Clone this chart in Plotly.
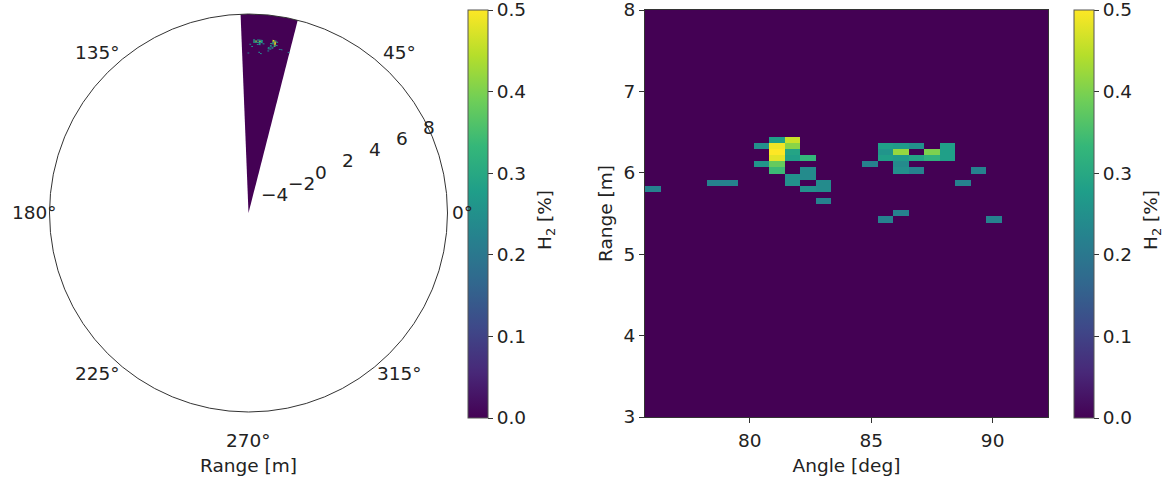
import numpy as np
import plotly.graph_objects as go

# ---- grid definition (angle bins in deg, range bins in m) ----
angle_start = 75.68
angle_step = 0.6385
n_angle = 26
range_start = -5.531
range_step = 0.0753
n_range = 181

# ---- non-zero H2 cells (angle centre [deg], range centre [m], H2 [%]) ----
hot_angle = [76.00, 78.55, 79.19,
             80.47, 80.47,
             81.11, 81.11, 81.11, 81.11, 81.11, 81.11,
             81.75, 81.75, 81.75, 81.75, 81.75, 81.75,
             82.39, 82.39, 82.39, 82.39,
             83.02, 83.02, 83.02,
             84.94,
             85.58, 85.58, 85.58,
             86.22, 86.22, 86.22, 86.22, 86.22,
             86.86, 86.86, 86.86,
             87.50, 87.50,
             88.13, 88.13, 88.13,
             88.77, 89.41, 85.58, 86.22, 90.05]
hot_range = [5.80, 5.88, 5.88,
             6.33, 6.10,
             6.40, 6.33, 6.25, 6.18, 6.10, 6.03,
             6.40, 6.33, 6.25, 6.18, 5.95, 5.88,
             6.18, 6.03, 5.95, 5.80,
             5.88, 5.80, 5.65,
             6.10,
             6.33, 6.25, 6.18,
             6.33, 6.25, 6.18, 6.10, 6.03,
             6.33, 6.18, 6.03,
             6.25, 6.18,
             6.33, 6.25, 6.18,
             5.88, 6.03, 5.43, 5.50, 5.43]
hot_h2 = [0.22, 0.22, 0.22,
          0.25, 0.26,
          0.28, 0.49, 0.50, 0.48, 0.38, 0.34,
          0.46, 0.41, 0.29, 0.28, 0.25, 0.25,
          0.33, 0.24, 0.24, 0.25,
          0.24, 0.24, 0.22,
          0.22,
          0.28, 0.26, 0.28,
          0.27, 0.42, 0.27, 0.24, 0.25,
          0.25, 0.29, 0.22,
          0.40, 0.32,
          0.28, 0.28, 0.28,
          0.22, 0.22, 0.22, 0.22, 0.22]

cbar_ticks = [0.0, 0.1, 0.2, 0.3, 0.4, 0.5]
radial_ticks = [-4, -2, 0, 2, 4, 6, 8]
radial_label_angle = 22.5
angular_ticks = [0, 45, 135, 180, 225, 270, 315]   # 90° label falls outside the frame
x_ticks = [80, 85, 90]
y_ticks = [3, 4, 5, 6, 7, 8]

# ---- build grid ----
angle_edges = angle_start + angle_step * np.arange(n_angle + 1)
range_edges = range_start + range_step * np.arange(n_range + 1)
z = np.zeros((n_range, n_angle))
for a, r, v in zip(hot_angle, hot_range, hot_h2):
    k = int((a - angle_start) // angle_step)
    i = int((r - range_start) // range_step)
    z[i, k] = v

FONT = "DejaVu Sans"
TXT = "#222222"
FS = 18.5
W, H = 1164, 481
EPS = 1e-6

# polar geometry (pixels)
PCX, PCY, PR = 248.5, 213.0, 199.0
rmin, rmax = float(range_edges[0]), float(range_edges[-1])

fig = go.Figure()

# polar wedge background (all-zero cells merged)
fig.add_trace(go.Barpolar(
    theta=[(angle_edges[0] + angle_edges[-1]) / 2],
    width=[angle_edges[-1] - angle_edges[0]],
    base=[rmin],
    r=[rmax - rmin],
    marker=dict(color=[float(z.min())], coloraxis="coloraxis", line=dict(width=0)),
    hoverinfo="skip", showlegend=False,
))
# non-zero cells on polar
ii, kk = np.nonzero(z)
fig.add_trace(go.Barpolar(
    theta=(angle_edges[kk] + angle_edges[kk + 1]) / 2,
    width=np.full(len(kk), angle_step),
    base=range_edges[ii],
    r=np.full(len(ii), range_step),
    marker=dict(color=z[ii, kk], coloraxis="coloraxis", line=dict(width=0)),
    showlegend=False,
))

# cartesian heatmap
fig.add_trace(go.Heatmap(
    x=angle_edges, y=range_edges, z=z, coloraxis="coloraxis2",
    xaxis="x", yaxis="y", zsmooth=False,
))

cb_common = dict(
    thickness=20, lenmode="pixels", len=408, y=1 - 214 / H, yanchor="middle",
    xanchor="left", xpad=0, ypad=0, outlinewidth=1, outlinecolor="#555555",
    ticks="outside", ticklen=5, tickcolor="#333333",
    tickvals=[min(t, 0.5 - EPS) for t in cbar_ticks],
    ticktext=[f"{t:.1f}" for t in cbar_ticks],
    ticklabeloverflow="allow",
    tickfont=dict(family=FONT, size=FS, color=TXT),
)

annotations = [
    dict(text="Range [m]", x=PCX / W, y=1 - 465 / H, xref="paper", yref="paper",
         xanchor="center", yanchor="middle",
         showarrow=False, font=dict(family=FONT, size=FS, color=TXT)),
    dict(text="H<sub>2</sub> [%]", x=546 / W, y=1 - 220 / H, xref="paper", yref="paper",
         xanchor="center", yanchor="middle",
         showarrow=False, textangle=-90, font=dict(family=FONT, size=FS, color=TXT)),
    dict(text="H<sub>2</sub> [%]", x=1152 / W, y=1 - 220 / H, xref="paper", yref="paper",
         xanchor="center", yanchor="middle",
         showarrow=False, textangle=-90, font=dict(family=FONT, size=FS, color=TXT)),
]
# angular tick labels (matplotlib places them centred on a ring outside the circle)
for t in angular_ticks:
    a = np.deg2rad(t)
    annotations.append(dict(
        text=f"{t}°", x=(PCX + 214 * np.cos(a)) / W, y=1 - (PCY - 227 * np.sin(a)) / H,
        xref="paper", yref="paper", xanchor="center", yanchor="middle",
        showarrow=False, font=dict(family=FONT, size=FS, color=TXT)))
# radial tick labels along the 22.5° direction
scale = PR / (rmax - rmin)
ra = np.deg2rad(radial_label_angle)
for t in radial_ticks:
    d = (t - rmin) * scale
    annotations.append(dict(
        text=str(t).replace("-", "\u2212"),
        x=(PCX + d * np.cos(ra) - 10) / W, y=1 - (PCY - d * np.sin(ra) - 10) / H,
        xref="paper", yref="paper", xanchor="left", yanchor="middle",
        showarrow=False, font=dict(family=FONT, size=FS, color=TXT)))

fig.update_layout(
    width=W, height=H,
    margin=dict(l=0, r=0, t=0, b=0, autoexpand=False),
    paper_bgcolor="white", plot_bgcolor="white",
    font=dict(family=FONT, size=FS, color=TXT),
    polar=dict(
        domain=dict(x=[(PCX - PR) / W, (PCX + PR) / W], y=[1 - (PCY + PR) / H, 1 - (PCY - PR) / H]),
        bgcolor="white",
        sector=[0, 360],
        angularaxis=dict(
            rotation=0, direction="counterclockwise",
            showticklabels=False, showgrid=False, ticks="",
            showline=True, linecolor="#333333", linewidth=1,
        ),
        radialaxis=dict(
            range=[rmin, rmax], angle=radial_label_angle,
            showticklabels=False, showgrid=False, showline=False, ticks="",
        ),
    ),
    coloraxis=dict(colorscale="Viridis", cmin=0, cmax=0.5,
                   colorbar=dict(x=468 / W, **cb_common)),
    coloraxis2=dict(colorscale="Viridis", cmin=0, cmax=0.5,
                    colorbar=dict(x=1074 / W, **cb_common)),
    xaxis=dict(
        domain=[645 / W, 1048 / W], range=[angle_edges[0], angle_edges[-1]],
        tickvals=x_ticks, ticks="outside", ticklen=5, tickcolor="#333333",
        ticklabelstandoff=2,
        showline=True, linecolor="#333333", mirror=True, showgrid=False, zeroline=False,
        title=dict(text="Angle [deg]", font=dict(family=FONT, size=FS, color=TXT), standoff=8),
        tickfont=dict(family=FONT, size=FS, color=TXT),
    ),
    yaxis=dict(
        domain=[1 - 417 / H, 1 - 10 / H], range=[3 - EPS, 8 + EPS],
        tickvals=y_ticks, ticks="outside", ticklen=5, tickcolor="#333333",
        ticklabeloverflow="allow",
        showline=True, linecolor="#333333", mirror=True, showgrid=False, zeroline=False,
        title=dict(text="Range [m]", font=dict(family=FONT, size=FS, color=TXT), standoff=6),
        tickfont=dict(family=FONT, size=FS, color=TXT),
    ),
    annotations=annotations,
)

fig.write_html(
    "out.html",
    config={"displayModeBar": False},
    post_script="document.body.style.margin='0px';document.body.style.overflow='hidden';",
)
